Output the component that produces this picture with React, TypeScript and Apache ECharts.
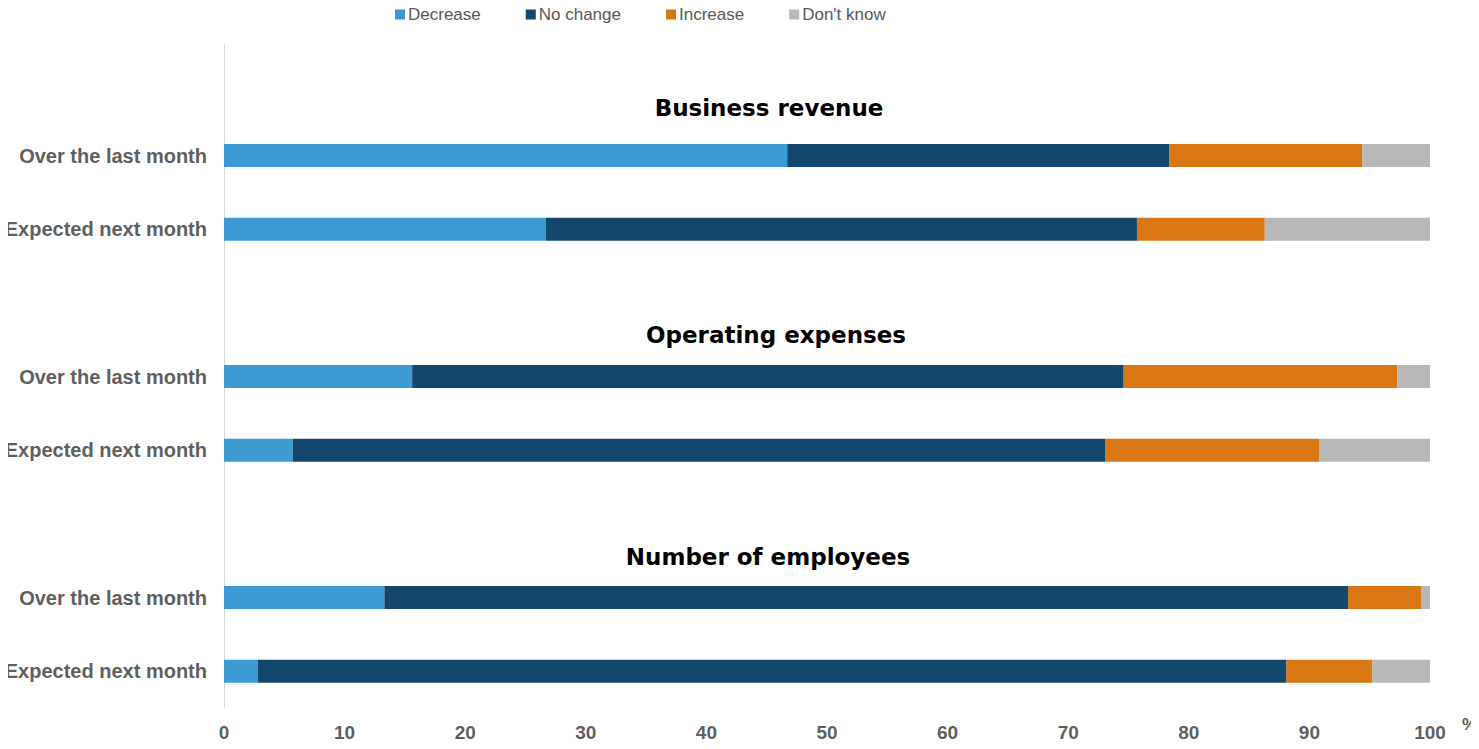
import React, { useEffect, useRef } from "react";
import * as echarts from "echarts";

const groupTitles = ["Business revenue", "Operating expenses", "Number of employees"];
const rowLabels = ["Over the last month", "Expected next month"];
const seriesNames = ["Decrease", "No change", "Increase", "Don't know"];
const seriesColors = ["#3C9BD3", "#13476D", "#D97812", "#B8B8B8"];

// rows: BR last, BR next, OE last, OE next, NE last, NE next
const decrease = [46.7, 26.7, 15.6, 5.7, 13.3, 2.8];
const noChange = [31.7, 49.0, 59.0, 67.4, 79.9, 85.3];
const increase = [16.0, 10.6, 22.7, 17.7, 6.1, 7.1];
const dontKnow = [5.6, 13.7, 2.7, 9.2, 0.7, 4.8];
const xTicks = [0, 10, 20, 30, 40, 50, 60, 70, 80, 90, 100];

const titlePos = [
  { x: 769, y: 108 },
  { x: 776, y: 335 },
  { x: 768, y: 557 },
];

export default function App() {
  const ref = useRef<HTMLDivElement>(null);
  useEffect(() => {
    if (!ref.current) return;
    const chart = echarts.init(ref.current, undefined, { renderer: "svg" });

    const categories: string[] = [];
    const labelMap: Record<string, string> = {};
    groupTitles.forEach((g, gi) => {
      const tk = "title-" + gi;
      categories.push(tk);
      labelMap[tk] = "";
      rowLabels.forEach((r, ri) => {
        const k = "row-" + gi + "-" + ri;
        categories.push(k);
        labelMap[k] = r;
      });
    });
    const expand = (arr: number[]) => {
      const out: (number | null)[] = [];
      for (let gi = 0; gi < groupTitles.length; gi++) {
        out.push(null);
        out.push(arr[gi * 2]);
        out.push(arr[gi * 2 + 1]);
      }
      return out;
    };
    const all = [decrease, noChange, increase, dontKnow];

    chart.setOption({
      animation: false,
      legend: {
        top: 1,
        left: 390,
        padding: 5,
        itemWidth: 10,
        itemHeight: 10,
        itemGap: 45,
        icon: "rect",
        textStyle: {
          fontFamily: "Liberation Sans",
          fontSize: 17,
          color: "#595959",
          padding: [0, 0, 0, -2],
        },
        data: seriesNames,
      },
      grid: { left: 224, right: 49, top: 45, bottom: 41, outerBoundsMode: "none" },
      xAxis: {
        type: "value",
        min: xTicks[0],
        max: xTicks[xTicks.length - 1],
        interval: 10,
        name: "%",
        nameLocation: "end",
        nameGap: 32,
        nameTextStyle: {
          fontFamily: "Liberation Sans",
          fontSize: 17,
          fontWeight: "bold",
          color: "#595959",
          verticalAlign: "top",
          align: "left",
          padding: [8, 0, 0, 0],
        },
        axisLine: { show: false },
        axisTick: { show: false },
        splitLine: { show: false },
        axisLabel: {
          margin: 15,
          fontFamily: "Liberation Sans",
          fontSize: 19,
          fontWeight: "bold",
          color: "#5F5F5F",
        },
      },
      yAxis: {
        type: "category",
        inverse: true,
        data: categories,
        axisLine: { show: true, lineStyle: { color: "#D9D9D9", width: 1 } },
        axisTick: { show: false },
        axisLabel: {
          margin: 17,
          fontFamily: "Liberation Sans",
          fontSize: 20,
          fontWeight: "bold",
          color: "#5F5F5F",
          formatter: (v: string) => labelMap[v] ?? "",
        },
      },
      series: seriesNames.map((n, i) => ({
        name: n,
        type: "bar",
        stack: "total",
        barWidth: 23,
        itemStyle: { color: seriesColors[i] },
        data: expand(all[i]),
      })),
      graphic: groupTitles.map((t, i) => ({
        type: "text",
        x: titlePos[i].x,
        y: titlePos[i].y,
        style: {
          text: t,
          fontFamily: "DejaVu Sans",
          fontWeight: "bold",
          fontSize: 23,
          fill: "#000000",
          align: "center",
          verticalAlign: "middle",
        },
      })),
    });
    return () => chart.dispose();
  }, []);
  return <div ref={ref} style={{ width: 1479, height: 749, margin: -8 }} />;
}
